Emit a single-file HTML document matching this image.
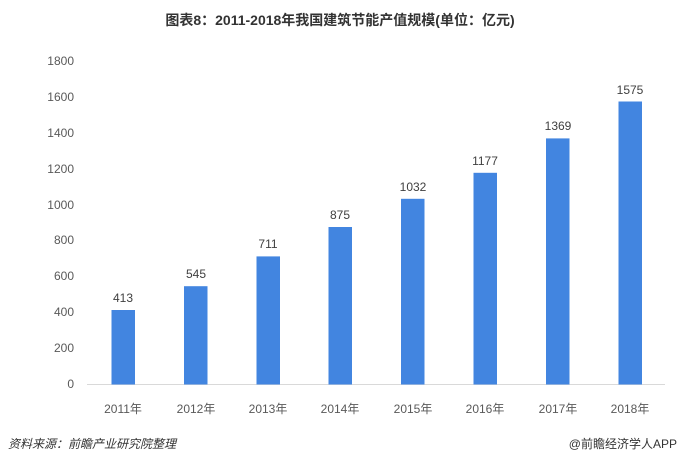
<!DOCTYPE html>
<html><head><meta charset="utf-8"><style>
body{margin:0;width:680px;height:467px;background:#fff;font-family:"Liberation Sans","Noto Sans CJK SC",sans-serif;overflow:hidden}
</style></head><body>
<svg width="680" height="467" xmlns="http://www.w3.org/2000/svg" font-family="Liberation Sans, Noto Sans CJK SC, sans-serif">
<text x="340" y="25" text-anchor="middle" font-size="14" font-weight="bold" fill="#333">图表8：2011-2018年我国建筑节能产值规模(单位：亿元)</text>
<g font-size="12" fill="#595959" text-anchor="end">
<text x="74" y="388">0</text><text x="74" y="352">200</text><text x="74" y="316">400</text><text x="74" y="280">600</text><text x="74" y="244">800</text><text x="74" y="209">1000</text><text x="74" y="173">1200</text><text x="74" y="137">1400</text><text x="74" y="101">1600</text><text x="74" y="65">1800</text>
</g>
<line x1="87" y1="384.5" x2="665" y2="384.5" stroke="#d9d9d9" stroke-width="1"/>
<g fill="#4285e0">
<rect x="111.5" y="310" width="23.5" height="74.5"/>
<rect x="184" y="286.2" width="23.5" height="98.3"/>
<rect x="256.5" y="256.4" width="23.5" height="128.1"/>
<rect x="328.5" y="227" width="23.5" height="157.5"/>
<rect x="401" y="198.8" width="23.5" height="185.7"/>
<rect x="473.5" y="172.8" width="23.5" height="211.7"/>
<rect x="546" y="138.4" width="23.5" height="246.1"/>
<rect x="618.5" y="101.5" width="23.5" height="283"/>
</g>
<g font-size="12" fill="#404040" text-anchor="middle">
<text x="123" y="302">413</text><text x="196" y="278">545</text><text x="268" y="248">711</text><text x="340" y="219">875</text><text x="413" y="191">1032</text><text x="485" y="165">1177</text><text x="558" y="130">1369</text><text x="630" y="94">1575</text>
</g>
<g font-size="12" fill="#595959" text-anchor="middle">
<text x="123" y="413">2011年</text><text x="196" y="413">2012年</text><text x="268" y="413">2013年</text><text x="340" y="413">2014年</text><text x="413" y="413">2015年</text><text x="485" y="413">2016年</text><text x="558" y="413">2017年</text><text x="630" y="413">2018年</text>
</g>
<text x="8" y="448" font-size="12" font-style="italic" fill="#333">资料来源：前瞻产业研究院整理</text>
<text x="677" y="448" font-size="12" fill="#333" text-anchor="end">@前瞻经济学人APP</text>
</svg>
</body></html>
